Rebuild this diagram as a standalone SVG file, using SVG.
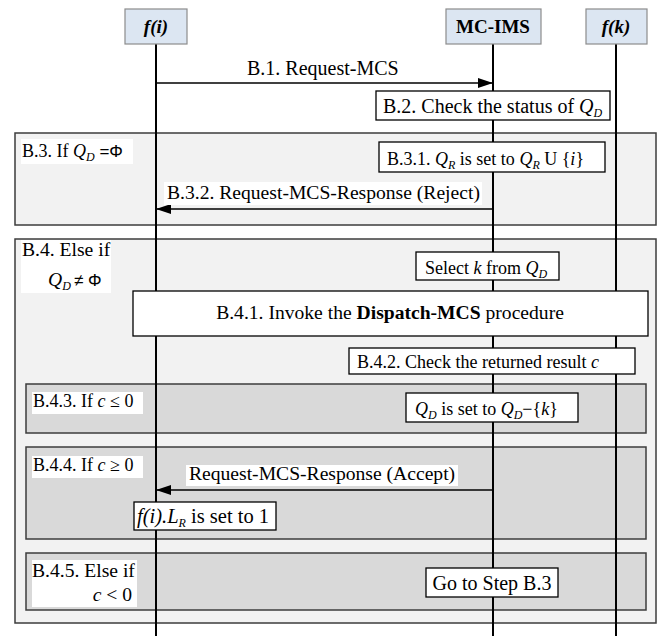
<svg xmlns="http://www.w3.org/2000/svg" width="661" height="636" viewBox="0 0 661 636">
<style>
text{font-family:"Liberation Serif","Times New Roman",serif;font-size:18px;fill:#000}
.hdr{fill:#dce6f2;stroke:#8c8c8c;stroke-width:1.2}
.hb{font-weight:bold;font-size:19px}
.frame{fill:#f2f2f2;stroke:#3c3c3c;stroke-width:1.5}
.inner{fill:#d9d9d9;stroke:#3c3c3c;stroke-width:1.5}
.box{fill:#fff;stroke:#000;stroke-width:1.3}
.lbl{fill:#fff;stroke:none}
.life{stroke:#000;stroke-width:2}
.msg{stroke:#000;stroke-width:1.5;fill:none}
.it{font-style:italic}
.sub{font-size:12px;font-style:italic}
.sans{font-family:"Liberation Sans",Arial,sans-serif;font-size:17px}
.big{font-size:20px}
.mid{font-size:19.6px}
</style>
<defs>
<marker id="ah" markerUnits="userSpaceOnUse" markerWidth="16" markerHeight="10" refX="15" refY="5" orient="auto">
<path d="M0,0 L15,5 L0,10 Z" fill="#000"/>
</marker>
</defs>

<g id="frame-B3">
<rect class="frame" x="15" y="133" width="641" height="92"/>
<rect class="lbl" x="21" y="139" width="112" height="25"/>
<text x="22" y="157">B.3. If <tspan class="it">Q</tspan><tspan class="sub" dy="4">D</tspan><tspan class="sans" dy="-4"> =Φ</tspan></text>
</g>

<g id="frame-B4">
<rect class="frame" x="15" y="239" width="641" height="384"/>
<rect class="lbl" x="21" y="240" width="90" height="53"/>
<text x="22" y="256" class="mid">B.4. Else if</text>
<text x="48" y="286" class="mid"><tspan class="it">Q</tspan><tspan class="sub" dy="4">D</tspan><tspan class="sans" x="74" dy="-4">≠</tspan><tspan class="sans" x="88">Φ</tspan></text>
</g>

<g id="frame-B43">
<rect class="inner" x="26" y="384" width="620" height="49"/>
<rect class="lbl" x="32" y="392" width="111" height="22"/>
<text x="33" y="407">B.4.3. If <tspan class="it">c</tspan> ≤ 0</text>
</g>

<g id="frame-B44">
<rect class="inner" x="26" y="447" width="620" height="92"/>
<rect class="lbl" x="32" y="456" width="111" height="22"/>
<text x="33" y="471">B.4.4. If <tspan class="it">c</tspan> ≥ 0</text>
</g>

<g id="frame-B45">
<rect class="inner" x="26" y="553" width="620" height="57"/>
<rect class="lbl" x="32" y="560" width="105" height="47"/>
<text x="32" y="577" class="mid">B.4.5. Else if</text>
<text x="132" y="601" text-anchor="end" class="mid"><tspan class="it">c</tspan> &lt; 0</text>
</g>

<g id="lifelines">
<line class="life" x1="156" y1="44" x2="156" y2="636"/>
<line class="life" x1="493" y1="44" x2="493" y2="636"/>
<line class="life" x1="616" y1="44" x2="616" y2="636"/>
</g>

<g id="connectors">
<g id="msg-B1">
<line class="msg" x1="156" y1="83" x2="493" y2="83" marker-end="url(#ah)"/>
<text x="247" y="75" class="big">B.1. Request-MCS</text>
</g>
<g id="msg-B32">
<line class="msg" x1="493" y1="209" x2="156" y2="209" marker-end="url(#ah)"/>
<rect class="lbl" x="164" y="182" width="318" height="23"/>
<text x="167" y="199" class="mid">B.3.2. Request-MCS-Response (Reject)</text>
</g>
<g id="msg-B44">
<line class="msg" x1="493" y1="490" x2="156" y2="490" marker-end="url(#ah)"/>
<rect class="lbl" x="186" y="465" width="272" height="21"/>
<text x="189" y="480" class="mid">Request-MCS-Response (Accept)</text>
</g>
</g>

<g id="node-fi">
<rect class="hdr" x="125" y="9" width="62" height="35"/>
<text x="156" y="33" text-anchor="middle" class="hb it">f(i)</text>
</g>
<g id="node-mcims">
<rect class="hdr" x="446" y="9" width="95" height="35"/>
<text x="493" y="33" text-anchor="middle" class="hb">MC-IMS</text>
</g>
<g id="node-fk">
<rect class="hdr" x="586" y="9" width="61" height="35"/>
<text x="616" y="33" text-anchor="middle" class="hb it">f(k)</text>
</g>

<g id="box-B2">
<rect class="box" x="376" y="91" width="234" height="29"/>
<text x="383" y="113" class="big">B.2. Check the status of <tspan class="it">Q</tspan><tspan class="sub" dy="4">D</tspan></text>
</g>

<g id="box-B31">
<rect class="box" x="379" y="142" width="226" height="30"/>
<text x="387" y="165">B.3.1. <tspan class="it">Q</tspan><tspan class="sub" dy="4">R</tspan><tspan dy="-4"> is set to </tspan><tspan class="it">Q</tspan><tspan class="sub" dy="4">R</tspan><tspan dy="-4"> U {</tspan><tspan class="it">i</tspan>}</text>
</g>

<g id="box-select">
<rect class="box" x="416" y="252" width="143" height="28"/>
<text x="425" y="274">Select <tspan class="it">k</tspan> from <tspan class="it">Q</tspan><tspan class="sub" dy="4">D</tspan></text>
</g>

<g id="box-B41">
<rect class="box" x="133" y="291" width="515" height="45"/>
<text x="390" y="319" text-anchor="middle" class="mid">B.4.1. Invoke the <tspan font-weight="bold">Dispatch-MCS</tspan> procedure</text>
</g>

<g id="box-B42">
<rect class="box" x="349" y="348" width="286" height="26"/>
<text x="357" y="368">B.4.2. Check the returned result <tspan class="it">c</tspan></text>
</g>

<g id="box-QD">
<rect class="box" x="406" y="393" width="172" height="29"/>
<text x="415" y="415"><tspan class="it">Q</tspan><tspan class="sub" dy="4">D</tspan><tspan dy="-4"> is set to </tspan><tspan class="it">Q</tspan><tspan class="sub" dy="4">D</tspan><tspan dy="-4">−{</tspan><tspan class="it">k</tspan>}</text>
</g>

<g id="box-LR">
<rect class="box" x="134" y="502" width="142" height="28"/>
<text x="137" y="523" style="font-size:20.5px"><tspan class="it">f(i).L</tspan><tspan class="sub" dy="4">R</tspan><tspan dy="-4"> is set to 1</tspan></text>
</g>

<g id="box-goto">
<rect class="box" x="426" y="568" width="132" height="29"/>
<text x="492" y="590" text-anchor="middle" class="big">Go to Step B.3</text>
</g>
</svg>
